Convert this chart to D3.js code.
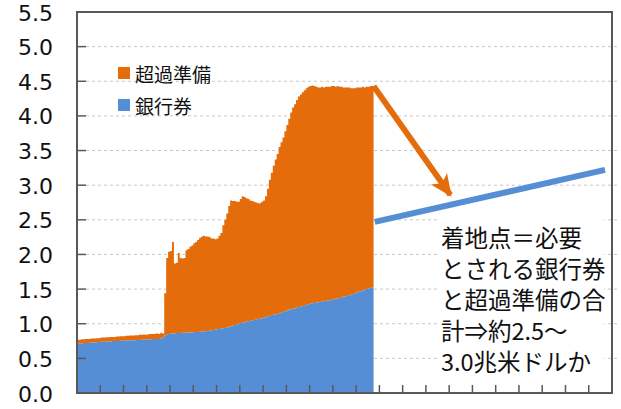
<!DOCTYPE html>
<html>
<head>
<meta charset="utf-8">
<script src="https://cdn.jsdelivr.net/npm/d3@7"></script>
<style>
  body { margin: 0; background: #fff; }
  svg { display: block; }
</style>
</head>
<body>
<div id="chart"></div>
<script>
// monthly data, Jan 2005 .. Sep 2017 (trillion USD)
const startYear = 2005;
const yearTicks = d3.range(2005, 2029);
const yTicks = [0, 0.5, 1, 1.5, 2, 2.5, 3, 3.5, 4, 4.5, 5, 5.5];

// 銀行券
const currency = [
  0.71,0.71,0.715,0.72,0.72,0.72,0.725,0.725,0.73,0.73,0.735,0.735,
  0.74,0.74,0.74,0.745,0.745,0.745,0.75,0.75,0.75,0.75,0.755,0.755,
  0.755,0.755,0.76,0.76,0.76,0.76,0.765,0.765,0.765,0.77,0.77,0.77,
  0.775,0.775,0.775,0.78,0.78,0.78,0.78,0.79,0.80,
  0.83,0.84,0.85,0.86,0.86,0.86,0.865,0.865,0.865,0.87,
  0.87,0.87,0.875,0.875,0.875,0.88,0.88,0.88,0.885,0.885,
  0.89,0.89,0.895,0.90,0.905,0.91,0.915,0.92,0.925,0.93,
  0.935,0.94,0.95,0.955,0.96,0.97,0.98,0.99,1.00,1.01,
  1.015,1.02,1.03,1.035,1.04,1.05,1.055,1.06,1.07,1.075,
  1.08,1.09,1.095,1.10,1.115,1.125,1.13,1.135,1.14,1.15,
  1.16,1.17,1.18,1.19,1.205,1.21,1.215,1.22,1.23,1.24,
  1.25,1.255,1.265,1.27,1.28,1.29,1.295,1.30,1.305,1.31,
  1.315,1.32,1.325,1.33,1.335,1.34,1.345,1.35,1.36,1.365,
  1.37,1.38,1.39,1.395,1.40,1.41,1.42,1.43,1.44,1.45,
  1.46,1.47,1.48,1.49,1.50,1.51,1.515,1.525
];

// 銀行券 + 超過準備 (top of the stack)
const monetaryBase = [
  0.77,0.77,0.775,0.775,0.78,0.78,0.78,0.785,0.785,0.785,0.79,0.79,
  0.80,0.80,0.80,0.805,0.805,0.81,0.81,0.81,0.815,0.815,0.82,0.82,
  0.82,0.825,0.825,0.83,0.83,0.83,0.835,0.835,0.84,0.84,0.845,0.84,
  0.845,0.85,0.85,0.85,0.855,0.86,0.85,0.87,0.86,
  1.44,1.95,2.04,2.05,2.18,1.87,1.88,2.02,1.95,1.94,
  1.95,2.06,2.08,2.11,2.13,2.16,2.18,2.21,2.24,2.26,
  2.27,2.26,2.26,2.25,2.23,2.23,2.22,2.23,2.27,2.31,
  2.42,2.50,2.59,2.70,2.78,2.77,2.77,2.76,2.76,2.80,
  2.84,2.83,2.81,2.80,2.78,2.77,2.76,2.75,2.74,2.74,
  2.76,2.78,2.84,2.95,3.08,3.18,3.28,3.37,3.45,3.55,
  3.62,3.69,3.78,3.87,3.96,4.05,4.12,4.17,4.23,4.28,
  4.31,4.34,4.37,4.40,4.42,4.43,4.44,4.43,4.42,4.41,
  4.41,4.42,4.41,4.42,4.42,4.42,4.43,4.43,4.42,4.43,
  4.42,4.42,4.41,4.41,4.41,4.41,4.40,4.40,4.40,4.41,
  4.41,4.41,4.42,4.41,4.42,4.42,4.43,4.43
];

// projection of the landing point
const projYears = [2017.8, 2027.7];
const projValues = [2.47, 3.22];
const arrowYears = [2017.75, 2021.05];
const arrowValues = [4.43, 2.86];

const legendLabels = ["超過準備", "銀行券"];
const noteLines = ["着地点＝必要", "とされる銀行券", "と超過準備の合", "計⇒約2.5～", "3.0兆米ドルか"];

const orange = "#E46C0A";
const blue = "#558ED5";
const frame = "#595959";

const W = 621, H = 409;
const plotLeft = 77, plotRight = 612, plotTop = 12, plotBottom = 393;

const svg = d3.select("#chart").append("svg")
    .attr("width", W)
    .attr("height", H);

const x = d3.scaleLinear().domain([2005, 2028]).range([plotLeft, plotRight]);
const y = d3.scaleLinear().domain([0, 5.5]).range([plotBottom, plotTop]);

// gridlines
svg.append("g")
    .selectAll("line")
    .data(yTicks.filter(d => d > 0 && d < 5.5))
    .enter()
    .append("line")
        .attr("x1", plotLeft + 9)
        .attr("x2", plotRight + 6)
        .attr("y1", d => y(d))
        .attr("y2", d => y(d))
        .attr("stroke", "#c8c8c8")
        .attr("stroke-width", 1)
        .attr("stroke-dasharray", "3,3");

// monthly rows, plus a closing point so the last step has width
const rows = currency.map((c, i) => ({ t: startYear + i / 12, c: c, total: monetaryBase[i] }));
rows.push({ t: startYear + currency.length / 12, c: currency[currency.length - 1], total: monetaryBase[monetaryBase.length - 1] });

const reserveArea = d3.area()
    .curve(d3.curveStepAfter)
    .x(d => x(d.t))
    .y0(d => y(d.c))
    .y1(d => y(d.total));

const currencyArea = d3.area()
    .curve(d3.curveStepAfter)
    .x(d => x(d.t))
    .y0(y(0))
    .y1(d => y(d.c));

svg.append("path").datum(rows).attr("d", reserveArea).attr("fill", orange);
svg.append("path").datum(rows).attr("d", currencyArea).attr("fill", blue);

// note box (hides gridlines behind the text)
svg.append("rect")
    .attr("x", 438)
    .attr("y", 209)
    .attr("width", 166)
    .attr("height", 168)
    .attr("fill", "#fff");

svg.append("g")
    .selectAll("text")
    .data(noteLines)
    .enter()
    .append("text")
        .attr("x", 441)
        .attr("y", (d, i) => 237 + i * 31)
        .attr("dominant-baseline", "central")
        .attr("font-family", "'Noto Sans CJK JP', sans-serif")
        .attr("font-size", 23.5)
        .attr("fill", "#111")
        .text(d => d);

// projection line
svg.append("line")
    .attr("x1", x(projYears[0]))
    .attr("y1", y(projValues[0]))
    .attr("x2", x(projYears[1]))
    .attr("y2", y(projValues[1]))
    .attr("stroke", blue)
    .attr("stroke-width", 6);

// arrow from the peak to the landing line
svg.append("defs").append("marker")
    .attr("id", "head")
    .attr("markerUnits", "userSpaceOnUse")
    .attr("viewBox", "0 0 20 20")
    .attr("refX", 18)
    .attr("refY", 10)
    .attr("markerWidth", 22)
    .attr("markerHeight", 22)
    .attr("orient", "auto")
    .append("path")
        .attr("d", "M0,1 L20,10 L0,19 L5,10 Z")
        .attr("fill", orange);

svg.append("line")
    .attr("x1", x(arrowYears[0]))
    .attr("y1", y(arrowValues[0]))
    .attr("x2", x(arrowYears[1]))
    .attr("y2", y(arrowValues[1]))
    .attr("stroke", orange)
    .attr("stroke-width", 6)
    .attr("marker-end", "url(#head)");

// frame
svg.append("rect")
    .attr("x", plotLeft)
    .attr("y", plotTop)
    .attr("width", plotRight - plotLeft)
    .attr("height", plotBottom - plotTop)
    .attr("fill", "none")
    .attr("stroke", frame)
    .attr("stroke-width", 2);

// left ticks, pointing inside
svg.append("g")
    .selectAll("line")
    .data(yTicks)
    .enter()
    .append("line")
        .attr("x1", plotLeft)
        .attr("x2", plotLeft + 9)
        .attr("y1", d => y(d))
        .attr("y2", d => y(d))
        .attr("stroke", frame)
        .attr("stroke-width", 1.5);

// bottom ticks, one per year
svg.append("g")
    .selectAll("line")
    .data(yearTicks)
    .enter()
    .append("line")
        .attr("x1", d => x(d))
        .attr("x2", d => x(d))
        .attr("y1", plotBottom)
        .attr("y2", plotBottom - 8)
        .attr("stroke", frame)
        .attr("stroke-width", 1.5);

// y labels
svg.append("g")
    .selectAll("text")
    .data(yTicks)
    .enter()
    .append("text")
        .attr("x", 53)
        .attr("y", d => y(d) + 1)
        .attr("text-anchor", "end")
        .attr("dominant-baseline", "central")
        .attr("font-family", "'DejaVu Sans', sans-serif")
        .attr("font-size", 22)
        .attr("fill", "#111")
        .text(d3.format(".1f"));

// legend
const legend = svg.append("g")
    .selectAll("g")
    .data(legendLabels)
    .enter()
    .append("g")
        .attr("transform", (d, i) => "translate(118," + (73 + i * 32) + ")");

legend.append("rect")
    .attr("x", 0)
    .attr("y", -6)
    .attr("width", 12)
    .attr("height", 12)
    .attr("fill", (d, i) => i === 0 ? orange : blue);

legend.append("text")
    .attr("x", 17)
    .attr("y", 0)
    .attr("dominant-baseline", "central")
    .attr("font-family", "'Noto Sans CJK JP', sans-serif")
    .attr("font-size", 19)
    .attr("fill", "#111")
    .text(d => d);
</script>
</body>
</html>
